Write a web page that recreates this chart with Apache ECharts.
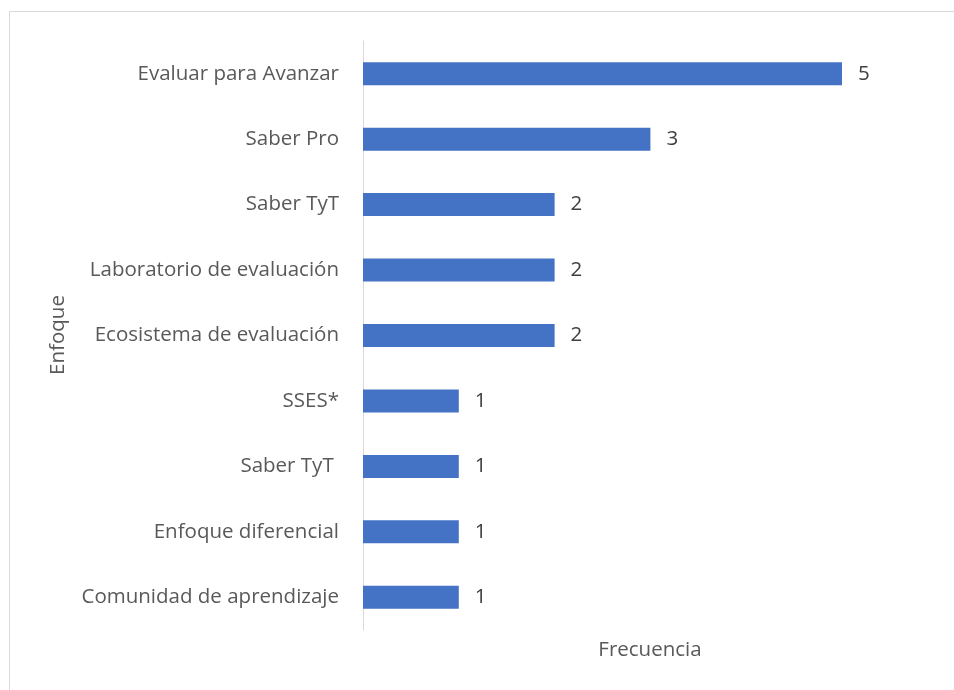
<!DOCTYPE html>
<html>
<head>
<meta charset="utf-8">
<script src="https://cdn.jsdelivr.net/npm/echarts@6/dist/echarts.min.js"></script>
<style>
  html, body { margin: 0; padding: 0; background: #fff; }
  #chart { width: 954px; height: 690px; }
</style>
</head>
<body>
<div id="chart"></div>
<script>
// datos
const categorias = [
  'Evaluar para Avanzar',
  'Saber Pro',
  'Saber TyT',
  'Laboratorio de evaluación',
  'Ecosistema de evaluación',
  'SSES*',
  'Saber TyT ',
  'Enfoque diferencial',
  'Comunidad de aprendizaje'
];
const frecuencias = [5, 3, 2, 2, 2, 1, 1, 1, 1];

const fontFam = '"Open Sans", "Noto Sans", sans-serif';
const fs = 20.5;

const myChart = echarts.init(document.getElementById('chart'));
const option = {
  animation: false,
  color: ['#4472C4'],
  grid: {
    left: 363,
    right: 112,
    top: 41,
    bottom: 60
  },
  xAxis: {
    type: 'value',
    min: 0,
    max: 5,
    axisLine: { show: false },
    axisTick: { show: false },
    axisLabel: { show: false },
    splitLine: { show: false }
  },
  yAxis: {
    type: 'category',
    inverse: true,
    data: categorias,
    axisLine: { show: true, lineStyle: { color: '#d9d9d9', width: 1 } },
    axisTick: { show: false },
    axisLabel: {
      color: '#595959',
      fontSize: fs,
      fontFamily: fontFam,
      margin: 24
    }
  },
  series: [
    {
      type: 'bar',
      data: frecuencias,
      barWidth: 23,
      label: {
        show: true,
        position: 'right',
        distance: 16,
        color: '#404040',
        fontSize: fs,
        fontFamily: fontFam
      }
    }
  ],
  graphic: [
    {
      type: 'rect',
      shape: { x: 9.5, y: 11.5, width: 960, height: 700 },
      style: { fill: 'none', stroke: '#d9d9d9', lineWidth: 1 },
      z: -1
    },
    {
      type: 'text',
      x: 650,
      y: 650,
      style: {
        text: 'Frecuencia',
        fill: '#595959',
        fontSize: fs,
        fontFamily: fontFam,
        align: 'center',
        verticalAlign: 'middle'
      }
    },
    {
      type: 'text',
      x: 58,
      y: 335,
      rotation: Math.PI / 2,
      style: {
        text: 'Enfoque',
        fill: '#595959',
        fontSize: fs,
        fontFamily: fontFam,
        align: 'center',
        verticalAlign: 'middle'
      }
    }
  ]
};
myChart.setOption(option);
</script>
</body>
</html>
